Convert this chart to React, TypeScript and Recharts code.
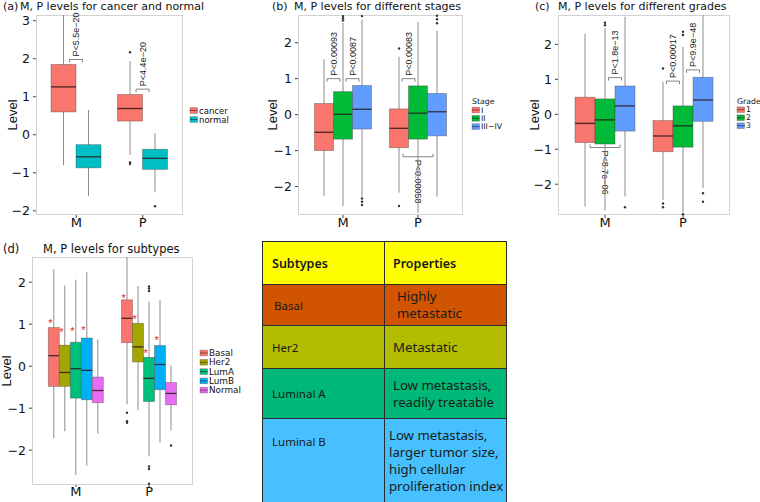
import React from 'react';
import { ComposedChart, Bar, XAxis, YAxis } from 'recharts';

const FONT_H = '"DejaVu Sans", Verdana, sans-serif';
const FONT_V = '"Liberation Sans", Arial, sans-serif';
const FONT_T = '"Noto Sans", "Open Sans", sans-serif';

const genes = ['M', 'P'];
const ticksA = [-2, -1, 0, 1, 2, 3];
const ticksBCD = [-2, -1, 0, 1, 2];

// every box: [lower whisker, Q1, median, Q3, upper whisker], per group then per gene (M, P)
// (a) cancer vs normal
const tissueGroups = ['cancer', 'normal'];
const tissueColors = ['#F8766D', '#00BFC4'];
const tissueBoxes = [
  [[-0.8, 0.6, 1.26, 1.85, 3.15], [-0.53, 0.36, 0.69, 1.06, 1.94]],
  [[-1.61, -0.87, -0.58, -0.26, 0.65], [-1.5, -0.91, -0.62, -0.38, 0.04]],
];
const tissueOutliers = [
  [[], [2.17, -0.73, -0.77]],
  [[], [-1.88]],
];
const tissueTests = [
  { gene: 0, from: 0, to: 1, at: 1.98, label: 'P<5.5e\u221220' },
  { gene: 1, from: 0, to: 1, at: 1.2, label: 'P<4.4e\u221220' },
];

// (b) stages
const stageGroups = ['I', 'II', 'III\u2212IV'];
const stageColors = ['#F8766D', '#00BA38', '#619CFF'];
const stageBoxes = [
  [[-2.26, -1.0, -0.49, 0.31, 1.54], [-2.17, -0.92, -0.38, 0.16, 1.61]],
  [[-2.54, -0.68, 0.01, 0.64, 2.55], [-2.74, -0.68, 0.04, 0.8, 2.58]],
  [[-2.28, -0.4, 0.15, 0.81, 2.63], [-2.28, -0.59, 0.08, 0.59, 2.33]],
];
const stageOutliers = [
  [[], [1.84, -2.54]],
  [[2.62, 2.68, 2.74], []],
  [[2.74, -2.33, -2.42, -2.51], [2.54, 2.65, 2.75]],
];
const stageTests = [
  { gene: 0, from: 0, to: 1, at: 1.0, label: 'P<0.00093' },
  { gene: 0, from: 1, to: 2, at: 1.0, label: 'P<0.0087' },
  { gene: 1, from: 0, to: 1, at: 1.0, label: 'P<0.00083' },
  { gene: 1, from: 0, to: 2, at: -1.17, label: 'P<0.00058', below: true },
];

// (c) grades
const gradeGroups = ['1', '2', '3'];
const gradeColors = ['#F8766D', '#00BA38', '#619CFF'];
const gradeBoxes = [
  [[-2.64, -0.81, -0.26, 0.49, 2.31], [-2.45, -1.07, -0.62, -0.18, 0.93]],
  [[-2.75, -0.85, -0.16, 0.44, 2.46], [-2.8, -0.94, -0.33, 0.24, 1.93]],
  [[-2.35, -0.48, 0.24, 0.81, 2.79], [-2.11, -0.2, 0.41, 1.06, 2.84]],
];
const gradeOutliers = [
  [[], [1.31, -2.55, -2.66]],
  [[2.55, 2.62], [2.27, 2.36, -2.86]],
  [[-2.66], [-2.26, -2.5]],
];
const gradeTests = [
  { gene: 0, from: 1, to: 2, at: 1.05, label: 'P<1.8e\u221213' },
  { gene: 0, from: 0, to: 2, at: -0.95, label: 'P<8.7e\u221206', below: true },
  { gene: 1, from: 0, to: 1, at: 0.95, label: 'P<0.00017' },
  { gene: 1, from: 1, to: 2, at: 1.27, label: 'P<9.9e\u221248' },
];

// (d) subtypes
const subtypeGroups = ['Basal', 'Her2', 'LumA', 'LumB', 'Normal'];
const subtypeColors = ['#F8766D', '#A3A500', '#00BF7D', '#00B0F6', '#E76BF3'];
const subtypeBoxes = [
  [[-1.71, -0.48, 0.25, 0.92, 2.31], [-0.91, 0.56, 1.14, 1.58, 2.6]],
  [[-1.55, -0.48, -0.15, 0.5, 1.92], [-1.05, 0.1, 0.46, 1.02, 1.91]],
  [[-2.59, -0.76, -0.06, 0.57, 2.06], [-2.15, -0.84, -0.29, 0.21, 1.54]],
  [[-2.37, -0.8, -0.1, 0.67, 2.24], [-1.82, -0.56, 0.04, 0.49, 1.58]],
  [[-1.61, -0.87, -0.58, -0.26, 0.64], [-1.53, -0.92, -0.65, -0.39, 0.02]],
];
const subtypeOutliers = [
  [[], [-1.11, -1.31, -1.35]],
  [[], []],
  [[], [1.79, 1.85, 1.9, -2.39, -2.45, -2.8]],
  [[], []],
  [[], [-1.89]],
];
// level where the red star sits (null = no star)
const subtypeStars = [
  [1.08, 1.68],
  [0.86, 1.18],
  [0.88, 0.37],
  [0.92, 0.68],
  [null, null],
];

// table
const tableHeader = ['Subtypes', 'Properties'];
const tableSubtypes = ['Basal', 'Her2', 'Luminal A', 'Luminal B'];
const tableProperties = [
  ['Highly', 'metastatic'],
  ['Metastatic'],
  ['Low metastasis,', 'readily treatable'],
  ['Low metastasis,', 'larger tumor size,', 'high cellular', 'proliferation index'],
];
const tableColors = ['#ffff00', '#d15500', '#b3bd00', '#00b877', '#47c0ff'];

type Test = { gene: number; from: number; to: number; at: number; label: string; below?: boolean };

const minus = (v: number) => String(v).replace('-', '\u2212');

function BoxGlyph(props: any) {
  const { x, y, width, height, stats, dots, boxColor, star, tests } = props;
  if (!stats) return null;
  const [lo, q1, med, q3, hi] = stats;
  const py = (v: number) => y + ((hi - v) / (hi - lo)) * height;
  const cx = x + width / 2;
  return (
    <g>
      <line x1={cx} x2={cx} y1={py(hi)} y2={py(lo)} stroke="#8c8c8c" strokeWidth={1} />
      <rect x={x} y={py(q3)} width={width} height={py(q1) - py(q3)} fill={boxColor}
        stroke="rgba(70,60,60,0.45)" strokeWidth={0.8} />
      <line x1={x} x2={x + width} y1={py(med)} y2={py(med)} stroke="rgba(45,25,25,0.85)" strokeWidth={1.3} />
      {dots.map((d: number, i: number) => (
        <circle key={i} cx={cx} cy={py(d)} r={1.2} fill="#333" />
      ))}
      {star != null && (
        <text x={x + width * 0.2} y={py(star) + 6} textAnchor="middle" fontSize={11}
          fill="#e8221b" fontFamily={FONT_V}>*</text>
      )}
      {tests.map((t: Test, i: number) => {
        const span = t.to - t.from;
        const bx = cx + (span * width) / 2;
        const half = span === 1 ? 6.5 : 15;
        const by = py(t.at);
        const d = t.below ? -3 : 3;
        return (
          <g key={i}>
            <path d={`M${bx - half},${by + d}L${bx - half},${by}L${bx + half},${by}L${bx + half},${by + d}`}
              fill="none" stroke="#666" strokeWidth={0.8} />
            <text transform={`translate(${bx},${t.below ? by + 3 : by - 3}) rotate(${t.below ? 90 : -90})`}
              textAnchor="start" dominantBaseline="central" fontSize={9} fontFamily={FONT_V} fill="#222">
              {t.label}
            </text>
          </g>
        );
      })}
    </g>
  );
}

function BoxPanel({ layout, boxes, outliers, colors, stars, tests }: any) {
  const { margin, yAxisWidth, xAxisHeight, width, height, domain, ticks } = layout;
  const rows = genes.map((name, gi) => {
    const row: any = { name };
    boxes.forEach((b: number[][], k: number) => {
      row[`g${k}`] = [b[gi][0], b[gi][4]];
    });
    return row;
  });
  const plotLeft = margin.left + yAxisWidth;
  const plotW = width - margin.right - plotLeft;
  const plotH = height - margin.bottom - xAxisHeight - margin.top;
  const tickStyle = { fontSize: 12.5, fill: '#111', fontFamily: FONT_H };
  return (
    <div style={{ position: 'absolute', left: layout.left, top: layout.top, width, height }}>
      <div style={{ position: 'absolute', left: plotLeft, top: margin.top, width: plotW, height: plotH,
        border: '1px solid #d2d2d2', boxSizing: 'border-box' }} />
      <ComposedChart width={width} height={height} data={rows} margin={margin} barGap={0}>
        <XAxis dataKey="name" axisLine={false} tickLine={{ stroke: '#444' }} tickSize={layout.xTickSize}
          tickMargin={0} height={xAxisHeight} padding={{ left: layout.xPad, right: layout.xPad }}
          tick={{ ...tickStyle, fontSize: 13 }} interval={0} />
        <YAxis type="number" domain={domain} ticks={ticks} width={yAxisWidth} axisLine={false}
          tickLine={{ stroke: '#444' }} tickSize={3} tickMargin={3} tick={tickStyle} interval={0}
          tickFormatter={minus}
          label={{ value: 'Level', angle: -90, position: 'insideLeft', offset: layout.labelOffset,
            style: { textAnchor: 'middle', fontSize: 13, fontFamily: FONT_V, fill: '#111' } }} />
        {boxes.map((_: any, k: number) => (
          <Bar key={k} dataKey={`g${k}`} barSize={layout.barSize} isAnimationActive={false}
            shape={(p: any) => (
              <BoxGlyph {...p} stats={boxes[k][p.index]} dots={outliers[k][p.index]} boxColor={colors[k]}
                star={stars ? stars[k][p.index] : null}
                tests={tests.filter((t: Test) => t.gene === p.index && t.from === k)} />
            )} />
        ))}
      </ComposedChart>
    </div>
  );
}

const layoutA = { left: 0, top: 0, width: 190, height: 235, margin: { top: 15, right: 7, bottom: 0, left: 6 },
  yAxisWidth: 30, xAxisHeight: 20, xPad: 7, barSize: 25, domain: [-2.11, 3.15], ticks: ticksA, labelOffset: 6, xTickSize: 3 };
const layoutB = { left: 250, top: 0, width: 220, height: 235, margin: { top: 15, right: 7, bottom: 0, left: 18 },
  yAxisWidth: 30, xAxisHeight: 20, xPad: 7.5, barSize: 19, domain: [-2.79, 2.77], ticks: ticksBCD, labelOffset: 4, xTickSize: 3 };
const layoutC = { left: 500, top: 0, width: 237, height: 235, margin: { top: 15, right: 7, bottom: 0, left: 28 },
  yAxisWidth: 30, xAxisHeight: 20, xPad: 8, barSize: 20, domain: [-2.88, 2.84], ticks: ticksBCD, labelOffset: 6, xTickSize: 3 };
const layoutD = { left: 0, top: 240, width: 200, height: 260, margin: { top: 17, right: 7, bottom: 0, left: 6 },
  yAxisWidth: 26, xAxisHeight: 15, xPad: 7.3, barSize: 11, domain: [-2.83, 2.6], ticks: ticksBCD, labelOffset: 0, xTickSize: 2 };

function LegendKey({ x, y, color }: { x: number; y: number; color: string }) {
  return (
    <g>
      <rect x={x} y={y - 2.8} width={7.5} height={5.6} fill={color} stroke="rgba(70,60,60,0.45)" strokeWidth={0.7} />
      <line x1={x} x2={x + 7.5} y1={y} y2={y} stroke="rgba(45,25,25,0.8)" strokeWidth={0.7} />
    </g>
  );
}

function LegendBlock({ x, y, step, groups, colors, title, fontSize }: any) {
  return (
    <g fontFamily={FONT_H} fill="#111">
      {title && <text x={x} y={y - step - 0.5} fontSize={fontSize} dominantBaseline="central">{title}</text>}
      {groups.map((g: string, i: number) => (
        <g key={g}>
          <LegendKey x={x} y={y + i * step} color={colors[i]} />
          <text x={x + 9} y={y + i * step} fontSize={fontSize} dominantBaseline="central">{g}</text>
        </g>
      ))}
    </g>
  );
}

function Overlay() {
  const t = { fontFamily: FONT_H, fill: '#111' };
  return (
    <svg width={760} height={502} style={{ position: 'absolute', left: 0, top: 0, pointerEvents: 'none' }}>
      <g {...t} fontSize={11}>
        <text x={3} y={10}>(a)</text>
        <text x={20} y={10}>M, P levels for cancer and normal</text>
        <text x={272} y={10}>(b)</text>
        <text x={294} y={10}>M, P levels for different stages</text>
        <text x={535} y={10}>(c)</text>
        <text x={558} y={10}>M, P levels for different grades</text>
      </g>
      <g {...t} fontSize={11.5}>
        <text x={3} y={253}>(d)</text>
        <text x={43} y={253}>M, P levels for subtypes</text>
      </g>
      <LegendBlock x={190} y={110.5} step={9} groups={tissueGroups} colors={tissueColors} fontSize={8.5} />
      <LegendBlock x={472} y={110} step={8.3} groups={stageGroups} colors={stageColors} title="Stage" fontSize={7.8} />
      <LegendBlock x={737} y={109.7} step={8} groups={gradeGroups} colors={gradeColors} title="Grade" fontSize={7.8} />
      <LegendBlock x={200} y={353} step={9.3} groups={subtypeGroups} colors={subtypeColors} fontSize={8.8} />
    </svg>
  );
}

const tableLayout = { left: 262, top: 241, leftCol: 122, rightCol: 123, rowHeights: [43, 41, 43, 50, 84],
  leftPad: [9, 11, 9, 9, 9], rightPad: [8, 12, 8, 8, 4] };

function SubtypeTable() {
  const L = tableLayout;
  const cells = [[tableHeader[0], [tableHeader[1]]], ...tableSubtypes.map((s, i) => [s, tableProperties[i]])];
  return (
    <div style={{ position: 'absolute', left: L.left, top: L.top, width: L.leftCol + L.rightCol,
      borderLeft: '1px solid #2b2b2b', borderTop: '1px solid #2b2b2b', borderRight: '1px solid #2b2b2b',
      boxSizing: 'border-box', fontFamily: FONT_T, color: '#1a1a1a' }}>
      {cells.map(([name, props], r) => (
        <div key={r} style={{ display: 'flex', height: L.rowHeights[r], background: tableColors[r],
          borderBottom: '1px solid #2b2b2b', boxSizing: 'border-box' }}>
          <div style={{ width: L.leftCol, borderRight: '1px solid #2b2b2b', boxSizing: 'border-box',
            paddingLeft: L.leftPad[r], display: 'flex', alignItems: r === 4 ? 'flex-start' : 'center',
            paddingTop: r === 4 ? 15 : 0, fontSize: r === 0 ? 12.5 : 11.5, fontWeight: r === 0 ? 600 : 400 }}>
            {name as string}
          </div>
          <div style={{ flex: 1, paddingLeft: L.rightPad[r], display: 'flex', flexDirection: 'column',
            justifyContent: 'center', fontSize: r === 0 ? 12.5 : 13.2, lineHeight: '17px',
            fontWeight: r === 0 ? 600 : 400, whiteSpace: 'nowrap' }}>
            {(props as string[]).map((line) => <div key={line}>{line}</div>)}
          </div>
        </div>
      ))}
    </div>
  );
}

export default function App() {
  return (
    <div style={{ position: 'absolute', left: 0, top: 0, width: 760, height: 502, background: '#fff', overflow: 'hidden' }}>
      <BoxPanel layout={layoutA} boxes={tissueBoxes} outliers={tissueOutliers} colors={tissueColors} tests={tissueTests} />
      <BoxPanel layout={layoutB} boxes={stageBoxes} outliers={stageOutliers} colors={stageColors} tests={stageTests} />
      <BoxPanel layout={layoutC} boxes={gradeBoxes} outliers={gradeOutliers} colors={gradeColors} tests={gradeTests} />
      <BoxPanel layout={layoutD} boxes={subtypeBoxes} outliers={subtypeOutliers} colors={subtypeColors}
        stars={subtypeStars} tests={[]} />
      <SubtypeTable />
      <Overlay />
    </div>
  );
}
